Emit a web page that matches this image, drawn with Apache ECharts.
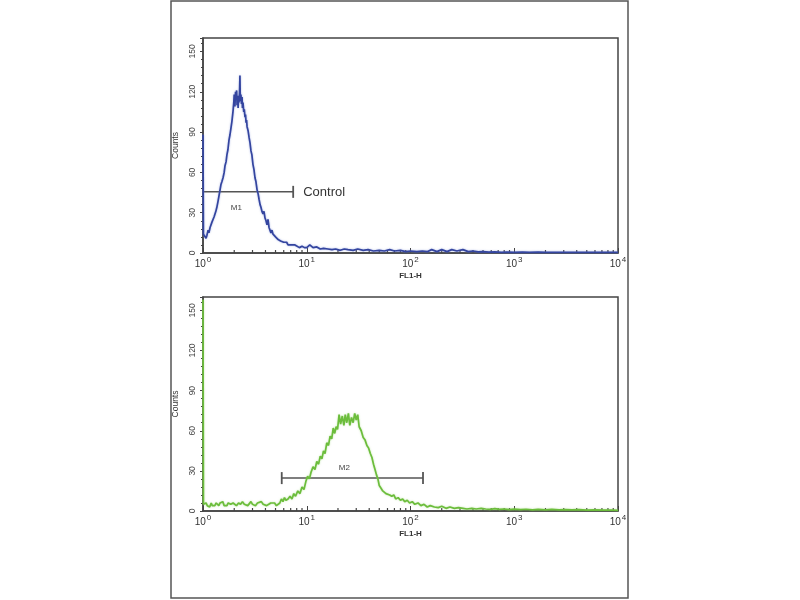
<!DOCTYPE html>
<html>
<head>
<meta charset="utf-8">
<script src="https://cdn.jsdelivr.net/npm/echarts@6/dist/echarts.min.js"></script>
<style>html,body{margin:0;padding:0;background:#fff}#c{width:800px;height:600px}</style>
</head>
<body>
<div id="c"></div>
<script>
// ---- data ----
const xTickValues = [1, 10, 100, 1000, 10000];
const xTickBases = ['10', '10', '10', '10', '10'];
const xTickExponents = ['0', '1', '2', '3', '4'];
const xMinorTicks = [2,3,4,5,6,7,8,9,20,30,40,50,60,70,80,90,200,300,400,500,600,700,800,900,2000,3000,4000,5000,6000,7000,8000,9000];
const xAxisTitle = 'FL1-H';
const yAxisTitle = 'Counts';

// Control histogram [FL1-H, counts]
const controlCounts = [
[1,88],[1.01,14],[1.045,15],[1.07,11],[1.09,13],[1.12,17],[1.14,15],[1.17,19],[1.19,18],[1.22,23],
[1.25,22],[1.28,27],[1.30,26],[1.33,31],[1.36,34],[1.40,39],[1.43,43],[1.46,47],[1.49,51],[1.52,53],
[1.56,56],[1.60,60],[1.63,65],[1.67,68],[1.70,73],[1.74,77],[1.78,84],[1.82,88],[1.86,93],[1.90,98],
[1.95,106],[1.98,112],[2.00,118],[2.03,109],[2.06,120],[2.08,114],[2.11,121],[2.13,110],[2.16,117],[2.18,108],
[2.20,115],[2.22,112],[2.25,119],[2.27,132],[2.29,113],[2.32,118],[2.35,111],[2.38,116],[2.40,108],[2.43,112],
[2.47,105],[2.50,107],[2.54,101],[2.57,103],[2.60,97],[2.63,99],[2.66,94],[2.72,91],[2.78,86],[2.84,82],
[2.90,76],[2.96,73],[3.03,66],[3.10,62],[3.17,56],[3.24,53],[3.32,47],[3.40,44],[3.47,40],[3.55,36],
[3.62,34],[3.70,31],[3.79,29],[3.87,31],[3.96,26],[4.05,24],[4.14,21],[4.23,25],[4.33,19],[4.42,18],
[4.52,15],[4.62,17],[4.73,14],[4.85,13],[5.0,12],[5.15,11],[5.3,10],[5.45,11],[5.6,9],[5.8,10],
[6.0,8],[6.2,7],[6.4,8],[6.6,6],[6.8,7],[7.1,6],[7.4,5],[7.7,6],[8.0,5],[8.5,4],
[9.0,5],[9.5,4],[10,4],[10.7,6],[11.5,4],[12.5,4.5],[13.5,3],[14.5,3.5],[16,3],[17.5,2.5],
[19,3],[21,2],[23,3],[25,2.5],[28,2],[31,3],[35,2],[39,2.5],[44,1.5],[50,2],
[56,1.5],[63,2.5],[70,1.5],[80,2],[90,1],[100,1.5],[115,1],[130,1.5],[145,1],[160,2.5],
[180,1],[200,2.5],[225,1],[250,2.5],[280,1.5],[320,2.5],[360,1],[400,1.5],[450,0.8],[500,1],
[570,0.6],[650,0.8],[750,0.5],[850,0.7],[1000,0.5],[1200,0.6],[1400,0.4],[1700,0.6],[2000,0.4],[2400,0.5],
[2900,0.4],[3500,0.5],[4200,0.4],[5000,0.5],[6000,0.4],[7200,0.5],[8600,0.4],[10000,0.5]
];

// Stained sample histogram [FL1-H, counts]
const sampleCounts = [
[1,158],[1.01,5],[1.04,4],[1.07,6],[1.1,4],[1.13,5],[1.16,3],[1.2,6],[1.23,4],[1.27,5],
[1.3,4],[1.34,6],[1.38,5],[1.42,4],[1.46,6],[1.5,5],[1.55,7],[1.6,4],[1.65,5],[1.7,4],
[1.75,6],[1.8,7],[1.85,5],[1.9,4],[1.95,6],[2.0,5],[2.1,4],[2.2,6],[2.3,5],[2.4,7],
[2.5,5],[2.6,6],[2.7,4],[2.8,5],[2.9,7],[3.0,5],[3.1,6],[3.2,4],[3.35,6],[3.5,5],
[3.65,7],[3.8,5],[3.95,6],[4.1,4],[4.3,5],[4.5,6],[4.7,5],[4.9,6],[5.1,4],[5.3,5],
[5.5,6],[5.7,9],[5.9,7],[6.1,10],[6.3,8],[6.6,9],[6.9,11],[7.2,9],[7.5,13],[7.8,11],
[8.2,15],[8.6,13],[9.0,18],[9.4,16],[9.8,22],[10.2,26],[10.6,24],[11.0,29],[11.5,33],[12.0,31],
[12.5,37],[13.0,35],[13.5,41],[14.0,39],[14.5,45],[15.0,43],[15.6,51],[16.2,49],[16.8,56],[17.4,54],
[18.0,62],[18.6,58],[19.2,63],[19.8,61],[20.5,72],[21.2,65],[22.0,71],[22.8,64],[23.5,72],[24.3,66],
[25.2,73],[26.0,64],[27.0,70],[28.0,66],[29.0,73],[30.0,68],[31.0,72],[32.0,63],[33.5,60],[35.0,55],
[36.5,53],[38.0,49],[39.5,47],[41.0,43],[42.5,40],[44.0,35],[45.5,31],[47.0,27],[48.5,24],[50.0,19],
[52.0,17],[54.0,15],[56.0,16],[58.0,13],[60.0,14],[63.0,12],[66.0,11],[69.0,12],[72.0,9],[76.0,10],
[80.0,8],[84.0,9],[88.0,7],[93.0,8],[98.0,6],[104,7],[110,5],[118,6],[126,4],[135,5],
[145,3],[155,4],[170,3],[185,2.5],[200,3.5],[220,2],[240,3],[265,2],[290,2.5],[320,2],
[350,1.5],[390,2],[430,1.5],[480,2],[530,1.5],[590,1.2],[650,1.8],[720,1.2],[800,1.5],[900,1],
[1000,1.4],[1150,1],[1300,1.3],[1500,0.9],[1700,1.2],[2000,0.9],[2300,1.2],[2700,0.8],[3100,1.1],[3600,0.8],
[4200,1],[5000,0.7],[6000,0.9],[7200,0.6],[8600,0.7],[10000,0.5]
];

// markers: [start, end, level]
const markerM1 = [1, 7.4, 45.5];
const markerM2 = [5.74, 132, 24.6];
const markerNames = ['M1', 'M2'];
const markerM1LabelPos = [2.1, 33.5];
const markerM2LabelPos = [23, 32.5];
const controlText = 'Control';

// ---- chart ----
const chart = echarts.init(document.getElementById('c'), null, {renderer: 'canvas'});
const axisColor = '#444';
const font = 'Liberation Sans, Arial, sans-serif';

function xAxisDef(gi) {
  return {
    type: 'log', logBase: 10, min: 1, max: 10000, gridIndex: gi,
    name: xAxisTitle, nameLocation: 'middle', nameGap: 19,
    nameTextStyle: {fontSize: 8, color: '#333', fontFamily: font, fontWeight: 'bold'},
    axisLine: {lineStyle: {color: axisColor, width: 1.5}},
    axisTick: {inside: true, length: 5, lineStyle: {color: axisColor}},
    axisLabel: {
      color: '#333', fontFamily: font, margin: 2,
      formatter: function (v) {
        const i = Math.round(Math.log10(v));
        return xTickBases[i] !== undefined ? '{b|' + xTickBases[i] + '}{s|' + xTickExponents[i] + '}' : '';
      },
      rich: {
        b: {fontSize: 10, fontFamily: font, color: '#333', lineHeight: 14, verticalAlign: 'bottom'},
        s: {fontSize: 8, fontFamily: font, color: '#333', lineHeight: 14, verticalAlign: 'top', padding: [1, 0, 0, 1]}
      }
    },
    splitLine: {show: false}
  };
}
function yAxisDef(gi) {
  return {
    type: 'value', min: 0, max: 160, interval: 30, gridIndex: gi,
    name: yAxisTitle, nameLocation: 'middle', nameGap: 22, nameRotate: 90,
    nameTextStyle: {fontSize: 8.5, color: '#333', fontFamily: font},
    axisLine: {show: true, lineStyle: {color: axisColor, width: 1.5}},
    axisTick: {show: true, length: 3, lineStyle: {color: axisColor}},
    minorTick: {show: true, splitNumber: 5, length: 2, lineStyle: {color: axisColor}},
    axisLabel: {fontSize: 8.5, color: '#444', fontFamily: font, rotate: 90, margin: 6, showMaxLabel: false,
      formatter: function (v) { return v > 150 ? '' : String(v); }},
    splitLine: {show: false},
    minorSplitLine: {show: false}
  };
}

function minorTickSeries(gi) {
  return {
    type: 'custom', xAxisIndex: gi, yAxisIndex: gi, silent: true, clip: false,
    data: xMinorTicks.map(function (v) { return [v, 0]; }),
    renderItem: function (params, api) {
      const p = api.coord([api.value(0), 0]);
      return {type: 'line', shape: {x1: p[0], y1: p[1], x2: p[0], y2: p[1] - 3},
        style: {stroke: axisColor, lineWidth: 1.2}};
    }
  };
}

function markerSeries(gi, m, labelPos, name, sideText) {
  return {
    type: 'custom', xAxisIndex: gi, yAxisIndex: gi, silent: true, clip: false,
    data: [[m[0], m[1], m[2], labelPos[0], labelPos[1]]],
    renderItem: function (params, api) {
      const a = api.coord([api.value(0), api.value(2)]);
      const b = api.coord([api.value(1), api.value(2)]);
      const l = api.coord([api.value(3), api.value(4)]);
      const children = [
        {type: 'line', shape: {x1: a[0], y1: a[1], x2: b[0], y2: b[1]}, style: {stroke: '#555', lineWidth: 1.5}},
        {type: 'line', shape: {x1: a[0], y1: a[1] - 6, x2: a[0], y2: a[1] + 6}, style: {stroke: '#555', lineWidth: 1.8}},
        {type: 'line', shape: {x1: b[0], y1: b[1] - 6, x2: b[0], y2: b[1] + 6}, style: {stroke: '#555', lineWidth: 1.8}},
        {type: 'text', x: l[0], y: l[1], style: {text: name, fill: '#444', font: '8px ' + font, align: 'center', verticalAlign: 'middle'}}
      ];
      if (sideText) {
        children.push({type: 'text', x: b[0] + 10, y: b[1] + 1,
          style: {text: sideText, fill: '#333', font: '13px ' + font, align: 'left', verticalAlign: 'middle'}});
      }
      return {type: 'group', children: children};
    }
  };
}

chart.setOption({
  animation: false,
  backgroundColor: '#fff',
  graphic: [{
    type: 'rect', shape: {x: 171, y: 1, width: 457, height: 597},
    style: {fill: 'none', stroke: '#555', lineWidth: 1.5}, z: 10
  }],
  grid: [
    {left: 203, top: 38, width: 415, height: 215, show: true, borderColor: axisColor, borderWidth: 1.5, backgroundColor: 'transparent'},
    {left: 203, top: 297, width: 415, height: 214, show: true, borderColor: axisColor, borderWidth: 1.5, backgroundColor: 'transparent'}
  ],
  xAxis: [xAxisDef(0), xAxisDef(1)],
  yAxis: [yAxisDef(0), yAxisDef(1)],
  series: [
    {type: 'line', xAxisIndex: 0, yAxisIndex: 0, data: controlCounts, showSymbol: false, silent: true,
      lineStyle: {color: '#34459f', width: 1.7, shadowColor: 'rgba(110,130,210,0.6)', shadowBlur: 2}, z: 3},
    {type: 'line', xAxisIndex: 1, yAxisIndex: 1, data: sampleCounts, showSymbol: false, silent: true,
      lineStyle: {color: '#6cbd3c', width: 1.7, shadowColor: 'rgba(150,210,110,0.6)', shadowBlur: 2}, z: 3},
    minorTickSeries(0),
    minorTickSeries(1),
    markerSeries(0, markerM1, markerM1LabelPos, markerNames[0], controlText),
    markerSeries(1, markerM2, markerM2LabelPos, markerNames[1], null)
  ]
});
</script>
</body>
</html>
